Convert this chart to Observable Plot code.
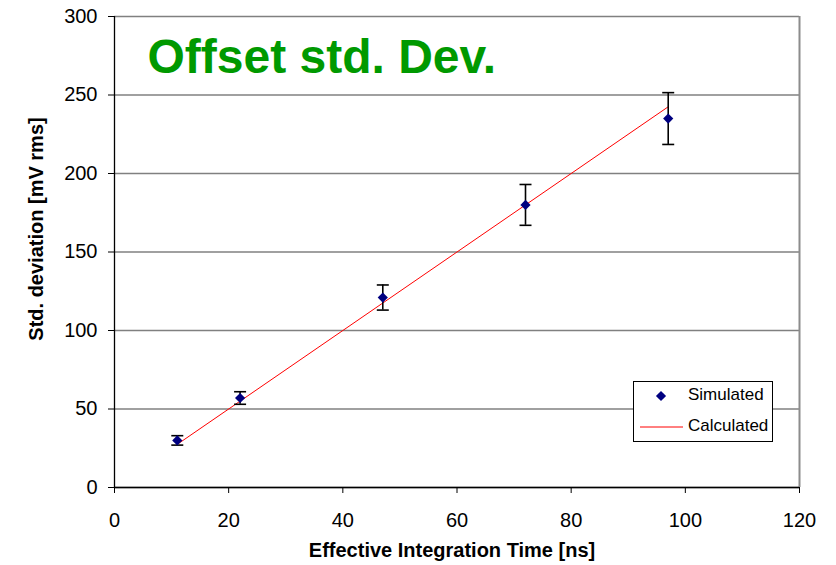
<!DOCTYPE html>
<html><head><meta charset="utf-8">
<script src="https://cdn.jsdelivr.net/npm/d3@7"></script>
<script src="https://cdn.jsdelivr.net/npm/@observablehq/plot@0.6"></script>
<style>
body{margin:0;background:#fff;}
#chart svg{display:block;}
</style>
</head><body><div id="chart"></div>
<script>
const integrationTime = [11, 22, 47, 72, 97];
const simulated = [30, 57, 121, 180, 235];
const simulatedError = [3, 4, 8, 13, 16.5];
const calculated = [27.5, 55, 117.5, 180, 242.5];
const xTicks = [0, 20, 40, 60, 80, 100, 120];
const yTicks = [0, 50, 100, 150, 200, 250, 300];
const chartTitle = "Offset std. Dev.";
const xLabel = "Effective Integration Time [ns]";
const yLabel = "Std. deviation [mV rms]";
const legendLabels = ["Simulated", "Calculated"];

const simData = integrationTime.map((t, i) => ({
  t, v: simulated[i], lo: simulated[i] - simulatedError[i], hi: simulated[i] + simulatedError[i]
}));
const calcData = integrationTime.map((t, i) => ({t, v: calculated[i]}));

const capSymbol = {draw(ctx) { ctx.moveTo(-6, 0); ctx.lineTo(6, 0); }};
const font = "'Liberation Sans', Arial, Helvetica, sans-serif";
const dotR = 4.6;

const plot = Plot.plot({
  width: 836, height: 565,
  marginLeft: 114, marginRight: 37, marginTop: 16, marginBottom: 78,
  style: {fontFamily: font, fontSize: "20px", color: "#000", background: "#fff"},
  x: {domain: [0, 120]},
  y: {domain: [0, 300]},
  marks: [
    Plot.gridY(yTicks, {stroke: "#808080", strokeOpacity: 1, strokeWidth: 1.3}),
    Plot.ruleX([120], {stroke: "#8c8c8c", strokeWidth: 2}),
    Plot.ruleY([0], {stroke: "#000", strokeWidth: 1.3}),
    Plot.ruleX([0], {stroke: "#000", strokeWidth: 1.3}),
    Plot.axisX(xTicks, {tickSize: 6, tickPadding: 19, label: null, fontSize: 20, stroke: "#000"}),
    Plot.axisY(yTicks, {tickSize: 6, tickPadding: 11, label: null, fontSize: 20, stroke: "#000"}),
    Plot.line(calcData, {x: "t", y: "v", stroke: "#ff0000", strokeWidth: 1}),
    Plot.ruleX(simData, {x: "t", y1: "lo", y2: "hi", stroke: "#000", strokeWidth: 1.6}),
    Plot.dot(simData, {x: "t", y: "lo", symbol: capSymbol, stroke: "#000", strokeWidth: 1.6, r: 4}),
    Plot.dot(simData, {x: "t", y: "hi", symbol: capSymbol, stroke: "#000", strokeWidth: 1.6, r: 4}),
    Plot.dot(simData, {x: "t", y: "v", symbol: "diamond2", r: dotR, fill: "#000080", stroke: "none"}),
    Plot.text([chartTitle], {frameAnchor: "top-left", dx: 33, dy: 22, text: d => d, textAnchor: "start", lineAnchor: "top",
      fontSize: 48, fontWeight: "bold", fill: "#009900"})
  ]
});

const svg = d3.select(plot);
svg.append("text").attr("x", 452).attr("y", 552)
  .attr("text-anchor", "middle").attr("dominant-baseline", "middle")
  .attr("font-family", font).attr("font-size", 20).attr("font-weight", "bold").attr("fill", "#000")
  .text(xLabel);
svg.append("text").attr("transform", "translate(38,229) rotate(-90)")
  .attr("text-anchor", "middle").attr("dominant-baseline", "middle")
  .attr("font-family", font).attr("font-size", 20).attr("font-weight", "bold").attr("fill", "#000")
  .text(yLabel);

const lg = svg.append("g").attr("font-family", font).attr("font-size", 17).attr("text-anchor", "start");
lg.append("rect").attr("x", 633.5).attr("y", 381.5).attr("width", 139).attr("height", 60)
  .attr("fill", "#fff").attr("stroke", "#000").attr("stroke-width", 1);
lg.append("path").attr("d", d3.symbol(d3.symbolDiamond2, dotR * dotR * Math.PI)()).attr("transform", "translate(661,396)")
  .attr("fill", "#000080");
lg.append("text").attr("x", 688).attr("y", 396).attr("dominant-baseline", "middle").attr("text-anchor", "start").attr("fill", "#000").text(legendLabels[0]);
lg.append("line").attr("x1", 640).attr("x2", 683).attr("y1", 427).attr("y2", 427).attr("stroke", "#ff0000").attr("stroke-width", 1);
lg.append("text").attr("x", 688).attr("y", 427).attr("dominant-baseline", "middle").attr("text-anchor", "start").attr("fill", "#000").text(legendLabels[1]);

document.getElementById("chart").appendChild(plot);
</script>
</body></html>
